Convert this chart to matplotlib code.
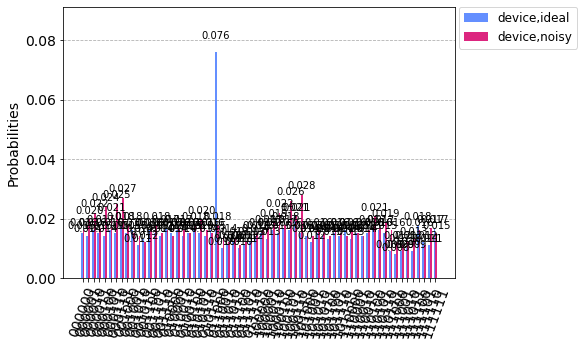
import numpy as np
import matplotlib
matplotlib.use("Agg")
import matplotlib.pyplot as plt

# 6-bit outcomes, 000000 ... 111111
labels = [format(i, "06b") for i in range(64)]
series_names = ["device,ideal", "device,noisy"]

ideal = [
    0.015, 0.014, 0.016, 0.015, 0.014, 0.016, 0.015, 0.018, 0.015, 0.016,
    0.011, 0.013, 0.016, 0.015, 0.014, 0.017, 0.015, 0.016, 0.014, 0.015,
    0.016, 0.015, 0.014, 0.016, 0.076, 0.010, 0.011, 0.012, 0.010, 0.011,
    0.012, 0.014, 0.015, 0.013, 0.016, 0.015, 0.017, 0.016, 0.021, 0.015,
    0.014, 0.012, 0.015, 0.014, 0.013, 0.015, 0.014, 0.016, 0.013, 0.015,
    0.014, 0.015, 0.017, 0.016, 0.015, 0.009, 0.008, 0.009, 0.010, 0.009,
    0.018, 0.012, 0.011, 0.017,
]
noisy = [
    0.016, 0.020, 0.022, 0.017, 0.024, 0.021, 0.025, 0.027, 0.018, 0.015,
    0.014, 0.012, 0.016, 0.018, 0.015, 0.016, 0.014, 0.017, 0.016, 0.015,
    0.018, 0.020, 0.016, 0.015, 0.018, 0.014, 0.012, 0.013, 0.011, 0.012,
    0.013, 0.015, 0.016, 0.017, 0.019, 0.022, 0.018, 0.026, 0.021, 0.028,
    0.015, 0.014, 0.016, 0.015, 0.014, 0.016, 0.015, 0.014, 0.016, 0.015,
    0.014, 0.016, 0.021, 0.017, 0.019, 0.016, 0.012, 0.011, 0.012, 0.013,
    0.016, 0.011, 0.017, 0.015,
]
colors = ["#648fff", "#dc267f"]

fig, ax = plt.subplots(figsize=(582 / 72, 348 / 72), dpi=72)
fig.subplots_adjust(left=0.108, right=0.782, top=0.98, bottom=0.201)

ind = np.arange(len(labels))
width = 1 / 3
for i, (name, vals) in enumerate(zip(series_names, [ideal, noisy])):
    rects = ax.bar(ind + (i - 0.5) * width, vals, width, label=name,
                   color=colors[i], zorder=2)
    for rect in rects:
        h = rect.get_height()
        ax.text(rect.get_x() + rect.get_width() / 2.0, 1.05 * h, "%.3f" % h,
                ha="center", va="bottom", zorder=3, fontsize=10)

ax.set_xticks(ind)
ax.set_xticklabels(labels, fontsize=14, rotation=70)
ax.set_ylim([0.0, 1.2 * max(max(ideal), max(noisy))])
ax.set_yticks([0.0, 0.02, 0.04, 0.06, 0.08])
ax.set_yticklabels(["0.00", "0.02", "0.04", "0.06", "0.08"], fontsize=14)
ax.set_ylabel("Probabilities", fontsize=14)
ax.grid(which="major", axis="y", zorder=0, linestyle="--")
ax.set_axisbelow(True)
ax.legend(loc="upper left", bbox_to_anchor=(1.01, 1.0), ncol=1,
          borderaxespad=0, frameon=True, fontsize=12)

fig.savefig("out.png", dpi=72)
